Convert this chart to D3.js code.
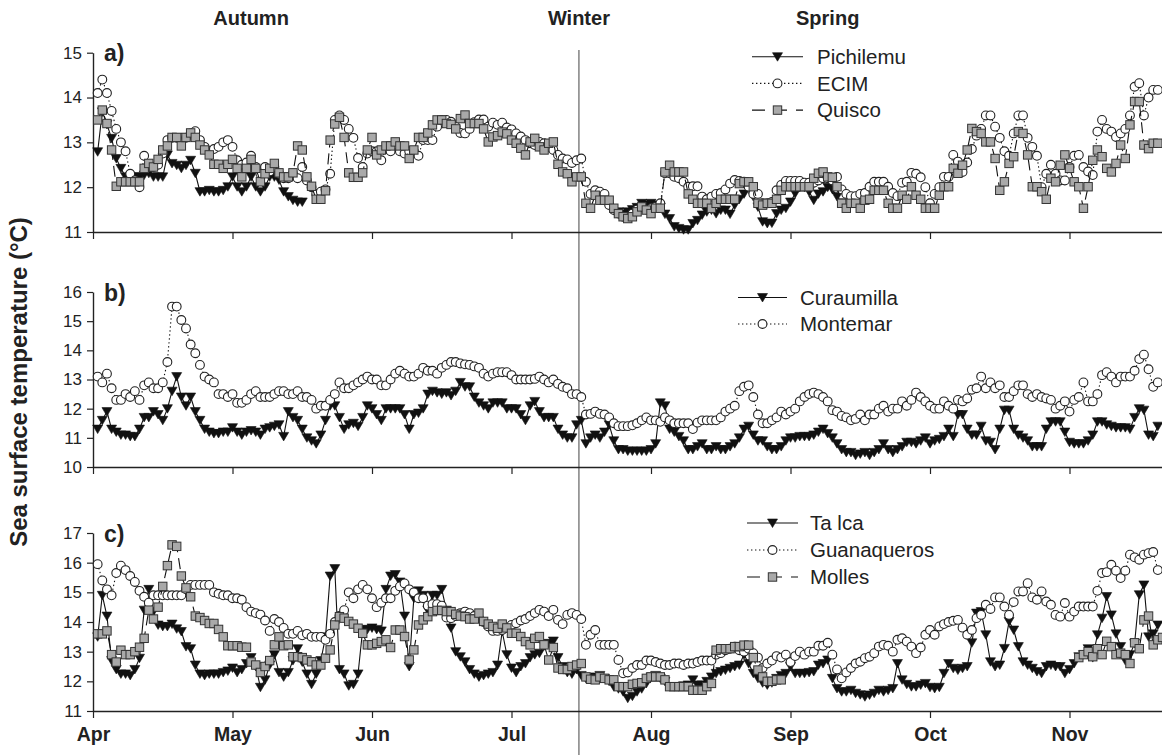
<!DOCTYPE html>
<html>
<head>
<meta charset="utf-8">
<script src="https://cdn.jsdelivr.net/npm/d3@7"></script>
<style>
  body { margin: 0; background: #fff; }
  svg { display: block; font-family: "Liberation Sans", Arial, Helvetica, sans-serif; }
</style>
</head>
<body>
<svg id="chart" width="1162" height="755"></svg>
<script>
// ---- axis categories (day 0 = 1 April, one tick every 30 days) ----
const months = ["Apr", "May", "Jun", "Jul", "Aug", "Sep", "Oct", "Nov"];
const monthDays = [0, 30, 60, 90, 120, 150, 180, 210];
const seasons = ["Autumn", "Winter", "Spring"];
const seasonDays = [34, 104.5, 158];
const winterStart = 104.5;
const firstDay = 1;   // first value of every series is day 1

// ---- panel a) daily sea surface temperature (°C) ----
const pichilemu = [
  12.79,13.68,13.4,13.09,12.64,12.42,12.23,12.23,12.23,12.23,
  12.27,12.31,12.23,12.23,12.23,12.72,12.53,12.49,12.42,12.49,
  12.6,12.31,11.9,11.9,11.93,11.9,11.9,11.93,12.01,12.23,
  12.01,11.9,12.01,12.23,12.01,11.9,12.01,12.23,12.23,12.16,
  11.9,11.79,11.71,11.67,11.67,null,null,null,null,null,
  null,null,null,null,null,null,null,null,null,null,
  null,null,null,null,null,null,null,null,null,null,
  null,null,null,null,null,null,null,null,null,null,
  null,null,null,null,null,null,null,null,null,null,
  null,null,null,null,null,null,null,null,null,null,
  null,null,null,null,null,null,null,null,null,null,
  null,null,11.45,11.4,11.45,11.5,11.55,11.64,11.6,11.64,
  11.6,11.55,11.4,11.3,11.12,11.08,11.05,11.05,11.19,11.26,
  11.38,11.45,11.49,11.41,11.49,11.49,11.4,11.6,11.73,11.85,
  12.01,11.79,11.56,11.23,11.19,11.2,11.41,11.49,11.53,11.67,
  11.86,12.0,12.0,11.9,11.71,11.85,11.9,12.0,11.95,11.79,
  11.65
];
const ecim = [
  14.1,14.4,14.1,13.7,13.3,13.0,12.8,12.3,12.15,12.0,
  12.7,12.5,12.45,12.5,12.75,13.05,13.1,13.1,13.1,13.1,
  13.2,13.25,13.05,12.9,12.8,12.85,12.9,13.0,13.05,12.9,
  12.6,12.5,12.55,12.7,12.45,12.3,12.45,12.35,12.45,12.3,
  12.2,12.2,12.3,12.2,12.45,12.15,12.0,11.85,11.9,11.95,
  12.3,13.5,13.6,13.5,13.3,13.1,12.65,12.45,12.75,12.8,
  12.8,12.6,12.85,12.8,12.95,12.8,12.75,12.8,12.8,12.7,
  13.05,13.05,13.05,13.35,13.5,13.5,13.46,13.35,13.21,13.2,
  13.3,13.45,13.51,13.51,13.35,13.44,13.39,13.44,13.33,13.29,
  13.2,13.13,13.05,12.98,12.94,13.01,12.98,12.9,12.83,12.72,
  12.64,12.62,12.54,12.6,12.64,12.12,11.85,11.93,11.9,11.85,
  11.6,11.49,11.41,11.34,11.34,11.41,11.5,11.56,11.5,11.53,
  11.56,11.64,12.31,12.31,12.23,12.2,12.12,12.01,12.02,12.02,
  11.79,11.73,11.79,11.85,11.87,11.95,12.08,12.16,12.14,12.12,
  12.01,11.85,11.85,11.64,11.64,11.67,11.93,12.05,12.14,12.14,
  12.14,12.14,12.1,12.1,12.1,12.15,12.2,12.2,12.15,12.23,
  11.95,11.85,11.8,11.8,11.85,11.87,12.01,12.12,12.12,12.12,
  12.01,11.87,11.8,12.1,12.12,12.32,12.3,12.22,12.0,11.64,
  11.85,12.0,12.23,12.23,12.72,12.57,12.34,12.55,12.85,13.15,
  13.3,13.6,13.6,13.35,13.1,12.8,12.7,13.2,13.6,13.6,
  13.1,12.9,12.7,12.0,12.3,12.5,12.3,12.15,12.15,12.45,
  12.7,12.72,12.45,12.35,12.27,13.24,13.5,13.3,13.24,13.12,
  13.2,13.3,13.6,14.24,14.32,13.6,14.0,14.17,14.17
];
const quisco = [
  13.5,13.72,13.42,12.83,12.02,12.12,12.12,12.12,12.12,12.12,
  12.42,12.53,12.45,12.62,12.83,12.92,13.11,13.11,12.92,13.11,
  13.21,13.11,12.94,12.83,12.72,12.51,12.51,12.42,12.51,12.62,
  12.42,12.23,12.42,12.62,12.42,12.12,12.3,12.42,12.53,12.32,
  12.23,12.23,12.32,12.92,12.83,12.23,12.02,11.73,11.73,11.92,
  13.05,13.41,13.56,13.11,12.32,12.22,12.22,12.32,12.83,13.11,
  12.72,12.83,12.92,12.92,13.01,12.92,12.92,12.64,12.83,13.11,
  13.11,13.21,13.39,13.5,13.5,13.42,13.4,13.3,13.53,13.61,
  13.42,13.42,13.42,13.3,13.01,13.12,13.15,13.23,13.19,13.05,
  12.98,12.87,12.72,13.01,13.09,12.9,12.83,12.98,13.01,12.51,
  12.34,12.3,12.12,12.23,12.23,11.64,11.53,11.82,11.71,11.71,
  11.71,11.53,11.41,11.34,11.3,11.34,11.45,11.56,11.49,11.41,
  11.53,11.53,12.34,12.49,12.34,12.34,12.34,11.85,11.73,11.64,
  11.64,11.64,11.53,11.64,11.73,11.73,11.73,11.73,12.08,12.12,
  12.12,12.01,11.64,11.6,11.64,11.64,11.73,11.93,12.01,12.01,
  12.01,12.01,12.01,12.01,12.2,12.31,12.34,12.23,12.22,12.01,
  11.64,11.53,11.64,11.64,11.53,11.71,11.73,11.93,11.93,11.93,
  11.64,11.53,11.53,11.82,11.73,12.01,11.82,11.73,11.53,11.53,
  11.53,11.82,12.01,12.01,12.42,12.31,12.49,12.83,13.31,13.24,
  13.2,13.01,13.01,12.64,11.93,12.12,12.53,12.68,13.24,13.2,
  12.72,12.01,12.01,11.9,11.73,12.2,12.12,12.49,12.72,12.42,
  12.12,12.01,11.53,12.01,12.6,12.83,12.68,12.42,12.34,12.53,
  12.94,12.64,13.39,13.91,13.91,12.94,12.86,12.98,12.98
];

// ---- panel b) ----
const curaumilla = [
  11.3,11.6,11.9,11.3,11.2,11.1,11.1,11.05,11.05,11.3,
  11.7,11.7,11.9,11.8,11.6,12.0,12.6,13.1,12.4,12.1,
  12.4,11.9,11.6,11.3,11.2,11.15,11.15,11.2,11.2,11.35,
  11.2,11.1,11.2,11.25,11.2,11.1,11.3,11.35,11.4,11.45,
  11.05,11.9,11.7,11.6,11.3,11.0,10.9,10.8,11.1,11.6,
  12.1,12.1,11.7,11.3,11.45,11.5,11.4,11.7,12.1,12.0,
  11.8,11.6,12.0,12.0,12.0,12.0,11.8,11.3,11.8,11.85,
  12.0,12.5,12.6,12.55,12.5,12.55,12.45,12.6,12.9,12.75,
  12.75,12.4,12.2,12.1,12.0,12.2,12.2,12.2,12.0,12.0,
  12.0,11.8,11.6,12.1,12.25,11.9,11.7,11.7,11.7,11.3,
  11.1,11.0,11.0,11.45,11.6,10.8,11.0,11.1,11.0,11.2,
  11.45,10.9,10.6,10.6,10.55,10.55,10.55,10.55,10.55,10.6,
  10.8,12.2,12.1,11.3,11.2,11.05,10.9,10.6,10.6,10.7,
  10.8,10.6,10.6,10.7,10.6,10.6,10.7,10.8,11.0,11.3,
  11.4,11.1,10.9,10.9,10.7,10.6,10.6,10.7,10.9,11.0,
  11.0,11.05,11.05,11.05,11.1,11.2,11.3,11.15,11.0,10.8,
  10.6,10.5,10.5,10.4,10.45,10.5,10.4,10.5,10.6,10.8,
  10.6,10.5,10.6,10.7,10.85,10.85,10.8,10.9,11.0,10.8,
  10.9,10.95,11.05,11.3,11.05,11.8,11.8,11.3,11.1,11.1,
  11.4,10.9,10.85,10.6,11.3,11.95,11.95,11.3,11.1,11.0,
  10.9,10.7,10.7,10.7,11.3,11.55,11.55,11.55,11.2,10.85,
  10.8,10.8,10.8,10.9,11.1,11.55,11.55,11.45,11.4,11.35,
  11.35,11.35,11.3,11.7,12.0,11.95,11.1,11.05,11.4
];
const montemar = [
  13.1,12.9,13.2,12.7,12.3,12.3,12.5,12.4,12.6,12.3,
  12.8,12.9,12.7,12.7,12.9,13.6,15.5,15.5,15.04,14.75,
  14.2,13.9,13.5,13.1,13.0,12.9,12.5,12.5,12.4,12.5,
  12.2,12.2,12.3,12.5,12.6,12.4,12.4,12.4,12.5,12.6,
  12.6,12.5,12.5,12.6,12.4,12.4,12.3,12.0,12.1,12.1,
  12.3,12.5,12.9,12.7,12.7,12.8,12.9,13.0,13.1,13.0,
  13.0,12.8,12.8,13.0,13.2,13.3,13.2,13.1,13.1,13.2,
  13.4,13.3,13.3,13.2,13.4,13.5,13.6,13.6,13.55,13.52,
  13.5,13.45,13.4,13.2,13.1,13.2,13.25,13.25,13.25,13.15,
  13.0,13.0,13.0,13.0,13.02,13.1,13.0,12.9,13.0,12.85,
  12.75,12.7,12.5,12.5,12.4,11.8,11.82,11.9,11.82,11.8,
  11.7,11.5,11.4,11.4,11.4,11.43,11.5,11.6,11.7,11.6,
  11.6,11.55,11.7,11.6,11.5,11.5,11.5,11.5,11.3,11.52,
  11.6,11.6,11.6,11.6,11.7,11.9,12.0,12.1,12.6,12.75,
  12.8,12.4,11.8,11.5,11.5,11.6,11.7,11.9,11.8,11.9,
  12.0,12.25,12.4,12.5,12.55,12.5,12.4,12.25,11.95,11.9,
  11.75,11.7,11.6,11.65,11.8,11.6,11.8,11.8,12.0,12.1,
  11.9,12.0,12.0,12.25,12.1,12.3,12.55,12.4,12.25,12.1,
  12.0,12.0,12.25,12.1,12.0,12.3,12.25,12.35,12.65,12.7,
  13.1,12.7,12.9,12.7,12.8,12.4,12.4,12.6,12.8,12.8,
  12.5,12.4,12.5,12.4,12.35,12.3,12.0,12.1,12.25,11.9,
  12.3,12.4,12.9,12.25,12.25,12.5,13.15,13.25,13.1,12.9,
  13.1,13.1,13.1,13.3,13.7,13.85,13.35,12.75,12.9
];

// ---- panel c) ----
const talca = [
  13.5,14.9,14.2,12.7,12.4,12.25,12.25,12.2,12.4,12.78,
  14.4,15.1,14.35,13.9,13.85,13.85,13.93,13.77,13.68,13.17,
  13.1,12.55,12.25,12.2,12.25,12.25,12.25,12.3,12.35,12.45,
  12.3,12.4,12.6,12.8,12.5,11.8,12.05,12.55,12.9,12.3,
  12.15,12.3,12.7,13.1,12.65,12.25,11.9,12.25,12.7,13.5,
  15.55,15.8,12.4,12.25,11.85,11.9,12.25,13.75,13.75,13.8,
  13.75,13.7,15.1,15.55,15.6,15.35,14.2,12.5,14.8,15.05,
  14.9,14.4,14.9,14.9,15.1,14.4,13.8,13.0,12.83,12.66,
  12.4,12.25,12.15,12.2,12.25,12.3,12.55,13.68,12.9,12.45,
  12.3,12.5,12.6,12.8,12.9,12.95,13.2,13.28,13.36,12.8,
  12.5,12.3,12.25,12.4,12.2,12.1,12.1,12.15,12.2,12.1,
  12.0,11.82,11.75,11.65,11.43,11.5,11.65,11.75,11.93,12.15,
  12.2,12.1,12.0,11.82,11.82,11.82,11.85,11.88,12.05,11.88,
  11.88,12.0,12.15,12.27,12.33,12.38,12.44,12.5,12.55,12.9,
  12.6,12.27,12.1,11.95,11.88,11.95,12.1,12.2,12.27,12.5,
  12.27,12.27,12.27,12.3,12.33,12.55,12.6,12.72,12.1,11.76,
  11.65,11.65,11.7,11.6,11.55,11.48,11.54,11.6,11.7,11.65,
  11.7,11.76,12.6,12.05,11.9,11.82,11.82,11.88,11.93,11.8,
  11.76,11.8,12.27,12.6,12.44,12.38,12.44,12.5,13.3,14.3,
  14.35,13.57,12.66,12.5,12.55,13.11,14.02,13.73,13.17,12.66,
  12.55,12.44,12.33,12.27,12.5,12.55,12.5,12.5,12.27,12.4,
  12.6,12.83,12.9,13.1,12.8,13.57,14.13,14.86,14.24,13.6,
  13.17,12.7,12.9,13.28,14.92,15.25,13.5,13.6,13.9
];
const guanaqueros = [
  15.95,15.4,15.1,14.9,15.65,15.9,15.75,15.55,15.35,15.05,
  14.85,14.65,14.9,14.9,14.9,14.9,14.9,14.9,14.9,15.1,
  15.25,15.25,15.25,15.25,15.25,15.0,14.95,14.9,14.9,14.8,
  14.8,14.75,14.5,14.35,14.3,14.25,14.05,13.7,14.1,14.0,
  13.8,13.6,13.6,13.7,13.55,13.6,13.5,13.5,13.5,13.4,
  13.6,14.0,14.2,14.4,15.0,14.8,15.1,15.25,15.1,14.8,
  14.5,14.65,14.8,14.8,15.05,15.2,15.3,15.1,15.0,14.8,
  14.8,14.55,14.6,14.6,14.55,14.15,14.13,14.2,14.3,14.35,
  14.3,14.2,14.13,14.0,13.85,13.7,13.7,13.73,13.8,13.9,
  13.96,14.05,14.1,14.2,14.3,14.41,14.35,14.2,14.41,14.07,
  13.93,14.24,14.3,14.24,14.1,13.23,13.57,13.73,13.23,13.23,
  13.23,13.23,12.72,12.27,12.3,12.45,12.55,12.55,12.7,12.7,
  12.65,12.6,12.55,12.55,12.6,12.6,12.55,12.6,12.6,12.65,
  12.7,12.7,12.7,12.9,12.95,13.05,13.1,13.17,13.05,13.0,
  13.1,12.95,12.8,12.45,12.6,12.7,12.85,12.8,12.9,12.65,
  12.85,13.0,12.9,13.0,13.0,13.2,13.2,13.3,12.9,12.4,
  12.1,12.3,12.45,12.6,12.66,12.78,12.83,12.95,13.17,13.23,
  13.2,13.0,13.4,13.45,13.34,13.17,12.95,13.14,13.57,13.73,
  13.57,13.85,13.93,14.0,14.04,14.07,13.81,13.57,13.73,14.13,
  14.24,14.58,14.44,14.83,14.83,14.52,14.24,14.67,15.03,15.03,
  15.31,14.83,14.75,15.03,14.69,14.58,14.24,14.18,14.64,14.18,
  14.35,14.52,14.52,14.52,14.52,15.05,15.65,15.68,15.93,15.73,
  15.48,15.73,16.27,16.18,16.1,16.27,16.32,16.36,15.75
];
// Molles logger: no readings from day 149 to day 210
const molles = [
  13.6,13.6,13.7,12.9,12.65,13.05,12.9,12.9,13.0,13.15,
  13.45,14.4,14.1,14.5,15.2,15.9,16.6,16.55,15.55,15.15,
  14.85,14.2,14.15,14.05,13.95,13.95,13.75,13.5,13.2,13.2,
  13.2,13.15,13.15,12.65,12.55,12.3,12.5,12.7,13.23,13.5,
  13.2,13.23,12.83,12.83,12.8,12.72,12.66,12.55,12.55,12.78,
  13.06,13.9,14.18,14.13,14.02,13.93,13.79,13.62,13.23,13.23,
  13.28,13.34,13.4,13.14,13.73,13.73,13.51,12.72,13.06,13.9,
  14.07,14.18,14.35,14.39,14.39,14.35,14.35,14.26,14.2,14.18,
  14.1,14.1,14.3,14.02,13.93,13.85,13.79,13.93,13.8,13.62,
  13.62,13.51,13.34,13.23,13.45,13.51,13.23,12.72,13.14,12.45,
  12.4,12.4,12.5,12.55,12.6,12.15,12.07,12.05,12.15,12.1,
  12.05,12.05,11.82,11.82,11.82,11.9,11.93,11.95,12.1,12.15,
  12.15,12.15,12.05,11.82,11.82,11.82,11.82,11.82,11.7,11.7,
  11.7,11.82,11.93,13.05,13.1,13.1,13.1,13.17,13.17,13.22,
  13.22,12.8,12.38,12.15,12.0,12.0,12.05,12.05,null,null,
  null,null,null,null,null,null,null,null,null,null,
  null,null,null,null,null,null,null,null,null,null,
  null,null,null,null,null,null,null,null,null,null,
  null,null,null,null,null,null,null,null,null,null,
  null,null,null,null,null,null,null,null,null,null,
  null,null,null,null,null,null,null,null,null,null,
  null,12.8,12.9,13.0,12.83,13.1,12.9,13.35,13.17,12.9,
  12.95,12.9,12.6,13.3,13.1,14.07,14.2,13.23,13.4,13.48
];

// ---- drawing ----
const svg = d3.select("#chart");
const x = d3.scaleLinear().domain([0, 230]).range([93, 93 + 4.65 * 230]);

const panels = [
  { tag: "a)", domain: [11, 15], range: [232, 52.7], ticks: [11, 12, 13, 14, 15],
    series: [
      { name: "Pichilemu", values: pichilemu, kind: "tri" },
      { name: "ECIM", values: ecim, kind: "circle" },
      { name: "Quisco", values: quisco, kind: "square" }
    ],
    legend: { x1: 752, x2: 803, tx: 817, y0: 56.7, dy: 26.7 } },
  { tag: "b)", domain: [10, 16], range: [467, 292], ticks: [10, 11, 12, 13, 14, 15, 16],
    series: [
      { name: "Curaumilla", values: curaumilla, kind: "tri" },
      { name: "Montemar", values: montemar, kind: "circle" }
    ],
    legend: { x1: 738, x2: 787, tx: 800, y0: 297.5, dy: 26.5 } },
  { tag: "c)", domain: [11, 17], range: [711, 533], ticks: [11, 12, 13, 14, 15, 16, 17],
    series: [
      { name: "Ta lca", values: talca, kind: "tri" },
      { name: "Guanaqueros", values: guanaqueros, kind: "circle" },
      { name: "Molles", values: molles, kind: "square" }
    ],
    legend: { x1: 747, x2: 798, tx: 810, y0: 523, dy: 27 } }
];

const lineStyle = {
  tri:    { dash: null,      width: 1.1 },
  circle: { dash: "1.4,2.6", width: 1.1 },
  square: { dash: "11,6",    width: 1.1 }
};

function drawMarker(g, kind, cx, cy) {
  if (kind === "tri") {
    g.append("path")
      .attr("d", `M${cx - 5},${cy - 4} L${cx + 5},${cy - 4} L${cx},${cy + 4.5} Z`)
      .attr("fill", "#111").attr("stroke", "#111").attr("stroke-width", 0.6);
  } else if (kind === "circle") {
    g.append("circle").attr("cx", cx).attr("cy", cy).attr("r", 4.4)
      .attr("fill", "#fff").attr("stroke", "#222").attr("stroke-width", 1.1);
  } else {
    g.append("rect").attr("x", cx - 4.2).attr("y", cy - 4.2)
      .attr("width", 8.4).attr("height", 8.4)
      .attr("fill", "#a9a9a9").attr("stroke", "#333").attr("stroke-width", 1);
  }
}

// winter boundary, crossing all three panels
svg.append("line")
  .attr("x1", x(winterStart)).attr("x2", x(winterStart))
  .attr("y1", 50).attr("y2", 755)
  .attr("stroke", "#6e6e6e").attr("stroke-width", 1.3);

panels.forEach((p, pi) => {
  const y = d3.scaleLinear().domain(p.domain).range(p.range);
  const g = svg.append("g");

  // axes
  const yAxis = d3.axisLeft(y).tickValues(p.ticks).tickSize(6).tickSizeOuter(0).tickPadding(5)
    .tickFormat(d3.format("d"));
  const ya = g.append("g").attr("transform", `translate(${x(0)},0)`).call(yAxis);
  ya.selectAll("text").attr("font-size", 17).attr("fill", "#222");

  const xAxis = d3.axisBottom(x).tickValues(monthDays).tickSize(7).tickSizeOuter(0)
    .tickFormat((d, i) => pi === 2 ? months[i] : "");
  const xa = g.append("g").attr("transform", `translate(0,${p.range[0]})`).call(xAxis);
  xa.selectAll("text").attr("font-size", 19.5).attr("font-weight", "bold")
    .attr("fill", "#222").attr("dy", "1.05em");
  [ya, xa].forEach(a => {
    a.select(".domain").attr("stroke", "#222").attr("stroke-width", 1.4);
    a.selectAll(".tick line").attr("stroke", "#222").attr("stroke-width", 1.2);
  });

  // panel tag
  g.append("text").attr("x", 104).attr("y", p.range[1] + 8.5)
    .attr("font-size", 23).attr("font-weight", "bold").attr("fill", "#222")
    .text(p.tag);

  // series
  p.series.forEach((s, si) => {
    const pts = s.values.map((v, i) => ({ d: i + firstDay, v }));
    const st = lineStyle[s.kind];
    const line = d3.line().defined(q => q.v != null).x(q => x(q.d)).y(q => y(q.v));
    const sg = g.append("g");
    sg.append("path").datum(pts).attr("d", line)
      .attr("fill", "none").attr("stroke", "#111").attr("stroke-width", st.width)
      .attr("stroke-dasharray", st.dash);
    pts.filter(q => q.v != null).forEach(q => drawMarker(sg, s.kind, x(q.d), y(q.v)));

    // legend row
    const ly = p.legend.y0 + si * p.legend.dy;
    const lg = g.append("g");
    lg.append("line").attr("x1", p.legend.x1).attr("x2", p.legend.x2)
      .attr("y1", ly).attr("y2", ly)
      .attr("stroke", "#111").attr("stroke-width", st.width)
      .attr("stroke-dasharray", s.kind === "square" ? "13,9" : st.dash);
    drawMarker(lg, s.kind, (p.legend.x1 + p.legend.x2) / 2, ly);
    lg.append("text").attr("x", p.legend.tx).attr("y", ly).attr("dy", "0.36em")
      .attr("font-size", 20.5).attr("fill", "#222").text(s.name);
  });
});

// season headers
svg.selectAll("text.season").data(seasons).join("text")
  .attr("class", "season")
  .attr("x", (d, i) => x(seasonDays[i])).attr("y", 25)
  .attr("text-anchor", "middle").attr("font-size", 20).attr("font-weight", "bold")
  .attr("fill", "#222").text(d => d);

// y title
svg.append("text")
  .attr("transform", `translate(27,382) rotate(-90)`)
  .attr("text-anchor", "middle").attr("font-size", 24).attr("font-weight", "bold")
  .attr("fill", "#222").text("Sea surface temperature (°C)");
</script>
</body>
</html>
